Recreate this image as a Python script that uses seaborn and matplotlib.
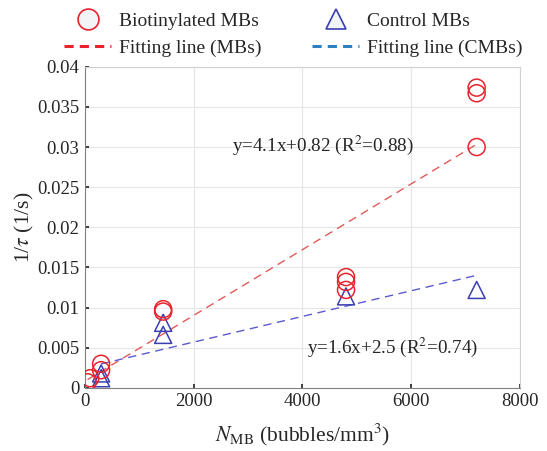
import seaborn as sns
import matplotlib.pyplot as plt
import pandas as pd
from matplotlib.lines import Line2D
from matplotlib.ticker import FuncFormatter

bio_n = [50, 100, 300, 300, 1440, 1440, 4800, 4800, 4800, 7200, 7200, 7200]
bio_rate = [0.0007, 0.0012, 0.0022, 0.0030, 0.0095, 0.0098, 0.0122, 0.0132, 0.0138, 0.0300, 0.0367, 0.0374]

ctrl_n = [300, 300, 1440, 1440, 4800, 7200]
ctrl_rate = [0.0012, 0.0018, 0.0066, 0.0081, 0.0114, 0.0122]

# fitting lines, y = slope*x + intercept (x in bubbles/mm^3)
fit_bio_range = [50, 7200]
fit_bio = (4.1e-6, 0.82e-3)
fit_ctrl_range = [300, 7200]
fit_ctrl = (1.6e-6, 2.5e-3)

bio_df = pd.DataFrame({"N": bio_n, "rate": bio_rate})
ctrl_df = pd.DataFrame({"N": ctrl_n, "rate": ctrl_rate})
fit_bio_df = pd.DataFrame({"N": fit_bio_range,
                           "rate": [fit_bio[0] * x + fit_bio[1] for x in fit_bio_range]})
fit_ctrl_df = pd.DataFrame({"N": fit_ctrl_range,
                            "rate": [fit_ctrl[0] * x + fit_ctrl[1] for x in fit_ctrl_range]})

red = "#e8232d"
blue = "#3b3fb0"

sns.set_theme(style="whitegrid")
plt.rcParams["font.family"] = ["Liberation Serif", "DejaVu Serif"]
plt.rcParams["mathtext.fontset"] = "stix"

fig = plt.figure(figsize=(5.47, 4.51), dpi=100)
ax = fig.add_axes([0.155, 0.14, 0.796, 0.712])

sns.lineplot(data=fit_bio_df, x="N", y="rate", ax=ax, color="#e05a5a",
             linestyle=(0, (6, 4)), linewidth=1.0)
sns.lineplot(data=fit_ctrl_df, x="N", y="rate", ax=ax, color="#5b5bd0",
             linestyle=(0, (6, 4)), linewidth=1.0)
sns.scatterplot(data=ctrl_df, x="N", y="rate", ax=ax, marker="^", s=150,
                facecolor="none", edgecolor=blue, linewidth=1.1, zorder=3)
sns.scatterplot(data=bio_df, x="N", y="rate", ax=ax, marker="o", s=150,
                facecolor="none", edgecolor=red, linewidth=1.1, zorder=4)

ax.text(2700, 0.0302, "y=4.1x+0.82 (R$^2$=0.88)", fontsize=13.8, va="center")
ax.text(4080, 0.0051, "y=1.6x+2.5 (R$^2$=0.74)", fontsize=13.7, va="center")

ax.set_xlim(0, 8000)
ax.set_ylim(0, 0.04)
ax.set_xticks([0, 2000, 4000, 6000, 8000])
ax.set_yticks([0, 0.005, 0.01, 0.015, 0.02, 0.025, 0.03, 0.035, 0.04])
ax.yaxis.set_major_formatter(FuncFormatter(lambda v, p: "%g" % v))
ax.tick_params(labelsize=13.5, colors="#262626", direction="in", length=3,
               left=True, bottom=True, pad=4)
ax.grid(color="#e6e6e6", linewidth=0.8)
for s in ax.spines.values():
    s.set_color("#d0d0d0")
    s.set_linewidth(0.8)
ax.spines["left"].set_color("#808080")
ax.spines["bottom"].set_color("#808080")

ax.set_xlabel("$N_{\\mathrm{MB}}$ (bubbles/mm$^3$)", fontsize=15.5, labelpad=8)
ax.set_ylabel("1/$\\tau$ (1/s)", fontsize=15.5, labelpad=1)

handles = [
    Line2D([], [], marker="o", linestyle="none", markersize=15,
           markerfacecolor="#f2f4f6", markeredgecolor=red, markeredgewidth=1.2),
    Line2D([], [], color=red, linestyle=(0, (3, 2)), linewidth=2.2),
    Line2D([], [], marker="^", linestyle="none", markersize=15,
           markerfacecolor="#f2f4f6", markeredgecolor=blue, markeredgewidth=1.2),
    Line2D([], [], color="#2f7fc1", linestyle=(0, (3, 2)), linewidth=2.2),
]
labels = ["Biotinylated MBs", "Fitting line (MBs)", "Control MBs", "Fitting line (CMBs)"]
fig.legend(handles, labels, ncol=2, loc="upper center", bbox_to_anchor=(0.536, 1.0),
           frameon=False, fontsize=14, handlelength=2.4, handletextpad=0.4,
           columnspacing=2.63, labelspacing=0.45, borderaxespad=0.25)

fig.savefig("out.png", dpi=100)
